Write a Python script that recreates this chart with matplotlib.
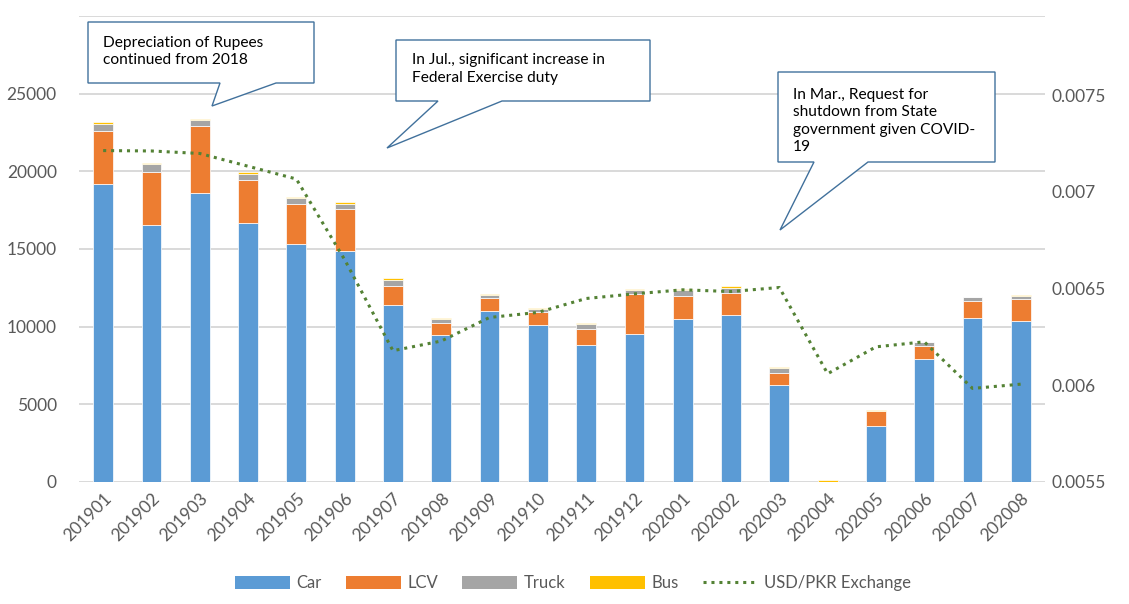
import matplotlib
matplotlib.use("Agg")
import matplotlib.pyplot as plt
import numpy as np
from matplotlib.patches import Polygon, Patch
from matplotlib.lines import Line2D

plt.rcParams['font.family'] = ['Lato', 'DejaVu Sans']

months = ['201901', '201902', '201903', '201904', '201905', '201906', '201907',
          '201908', '201909', '201910', '201911', '201912', '202001', '202002',
          '202003', '202004', '202005', '202006', '202007', '202008']

car = [19170, 16540, 18600, 16670, 15310, 14860, 11410, 9480, 11030, 10120,
       8830, 9540, 10510, 10770, 6250, 0, 3600, 7930, 10550, 10340]
lcv = [3400, 3400, 4290, 2780, 2600, 2730, 1200, 780, 810, 810,
       1050, 2560, 1490, 1420, 780, 0, 940, 840, 1120, 1440]
truck = [500, 520, 430, 410, 370, 300, 390, 210, 220, 220,
         300, 260, 360, 320, 280, 0, 50, 230, 210, 190]
bus = [110, 50, 70, 90, 85, 110, 150, 60, 40, 80,
       80, 90, 90, 85, 65, 110, 20, 45, 45, 90]

usd_pkr = [0.007214, 0.007212, 0.007199, 0.007133, 0.007067, 0.006650, 0.006179,
           0.006229, 0.006351, 0.006377, 0.006449, 0.006473, 0.006494, 0.006485,
           0.006506, 0.006060, 0.006199, 0.006225, 0.005984, 0.006006]

left_ticks = [0, 5000, 10000, 15000, 20000, 25000]
right_ticks = [0.0055, 0.006, 0.0065, 0.007, 0.0075]
right_labels = ['0.0055', '0.006', '0.0065', '0.007', '0.0075']

W, H = 1129, 604
fig = plt.figure(figsize=(W / 100, H / 100), dpi=100)
ax = fig.add_axes([79 / W, 1 - 482 / H, (1045 - 79) / W, (482 - 16) / H])
ax2 = ax.twinx()

grey_txt = '#595959'
colors = {'Car': '#5B9BD5', 'LCV': '#ED7D31', 'Truck': '#A5A5A5', 'Bus': '#FFC000'}

x = np.arange(len(months))
bw = 0.41
bottom = np.zeros(len(months))
for name, vals in [('Car', car), ('LCV', lcv), ('Truck', truck), ('Bus', bus)]:
    v = np.array(vals, dtype=float)
    ax.bar(x, v, bw, bottom=bottom, color=colors[name], edgecolor='white',
           linewidth=0.5, zorder=3)
    bottom += v

ax.set_xlim(-0.5, len(months) - 0.5)
ax.set_ylim(0, 30000)
ax.set_yticks(left_ticks)
ax.set_yticklabels([str(t) for t in left_ticks])
for yv in left_ticks + [30000]:
    ax.axhline(yv, color='#D9D9D9', linewidth=1.4, zorder=1)

ax.set_xticks(x)
ax.set_xticklabels(months, rotation=45, ha='right', rotation_mode='anchor')

ax2.plot(x, usd_pkr, color='#548235', linestyle=(0, (1, 1.6)), linewidth=2.2,
         dash_capstyle='butt', zorder=4)
ax2.set_ylim(0.0055, 0.00791)
ax2.set_yticks(right_ticks)
ax2.set_yticklabels(right_labels)

for a in (ax, ax2):
    for s in a.spines.values():
        s.set_visible(False)
    a.tick_params(length=0, colors=grey_txt, labelsize=12.5)
ax.tick_params(axis='x', labelsize=12.5, pad=6)
ax.tick_params(axis='y', pad=16)
ax2.tick_params(axis='y', pad=5)


def fpt(px, py):
    return (px / W, 1 - py / H)


def callout(x0, y0, x1, y1, bl, br, tip, text, tx, ty):
    pts = [(x0, y0), (x1, y0), (x1, y1), (br, y1), tip, (bl, y1), (x0, y1)]
    poly = Polygon([fpt(*p) for p in pts], closed=True, transform=fig.transFigure,
                   facecolor='white', edgecolor='#41719C', linewidth=1.0, zorder=10)
    fig.add_artist(poly)
    fig.text(*fpt(tx, ty), text, ha='left', va='center', fontsize=11.2,
             color='black', linespacing=1.32, zorder=11)


callout(88, 22, 314, 83, 220, 276, (212, 106),
        'Depreciation of Rupees\ncontinued from 2018', 103, 51.5)
callout(396, 40, 650, 101, 438, 502, (387, 148),
        'In Jul., significant increase in\nFederal Exercise duty', 412, 69)
callout(778, 72, 995, 162, 814, 868, (780, 230),
        'In Mar., Request for\nshutdown from State\ngovernment given COVID-\n19', 793, 121)

handles = [Patch(facecolor=colors[k], edgecolor='none') for k in colors]
handles.append(Line2D([], [], color='#548235', linestyle=(0, (1, 1.6)), linewidth=2.2))
labels = list(colors.keys()) + ['USD/PKR Exchange']
fig.legend(handles, labels, loc='center', bbox_to_anchor=(573 / W, 1 - 583 / H),
           ncol=5, frameon=False, fontsize=12, handlelength=3.3, handleheight=0.8,
           handletextpad=0.4, columnspacing=1.45, labelcolor=grey_txt)

fig.savefig('out.png', dpi=100)
